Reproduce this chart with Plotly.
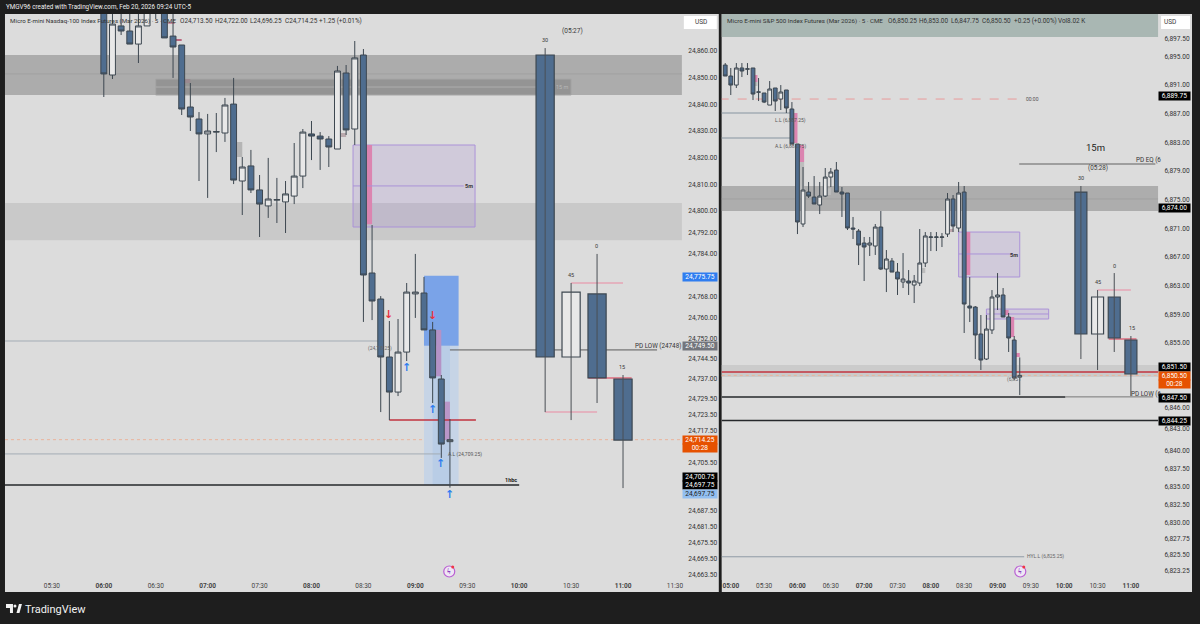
import pandas as pd
import plotly.graph_objects as go

DAY = "2026-02-20 "

# ---------- Nasdaq pane data ----------
nq_times = [d.strftime("%Y-%m-%d %H:%M") for d in pd.date_range(DAY + "06:00", DAY + "09:20", freq="5min")]
nq_open = [24877,24851,24869.4,24867.5,24862.6,24869.4,24878,24878,24865.6,24862.25,24839,24834.5,
           24828.9,24829.6,24829.25,24840.1,24811.25,24816.9,24807.9,24801.9,24804.1,24803.4,24805.6,24813.1,
           24828.9,24828.1,24827,24823.25,24851.75,24830.75,24858.5,24776.75,24767,24745.25,24732.1,24747.1,
           24768.9,24769.25,24755.4,24737,24713.5]
nq_high = [24879,24875,24875,24875,24875,24879,24879,24879,24874,24862.25,24848,24837.1,
           24836.4,24836.75,24842.4,24849.9,24820.25,24822.9,24813.5,24819.9,24812.4,24811.25,24825.5,24830.75,
           24833.75,24829.6,24828.1,24854.4,24854.75,24863.75,24860.75,24794.75,24768.1,24758.75,24759.5,24773,
           24783.9,24775.25,24758.4,24738.5,24722]
nq_low = [24842.75,24849.5,24866,24862.6,24855.5,24869.4,24872,24864.9,24849.9,24836,24830,24811.25,
          24804.9,24822.1,24825.9,24810.1,24798.5,24806.75,24790.25,24797.4,24795.5,24791.75,24802.6,24808.6,
          24819.1,24815.4,24816.5,24823.25,24828.5,24824.75,24758.4,24759.1,24724.6,24721.6,24730.6,24743.75,
          24759.9,24755.4,24728,24707.4,24696.25]
nq_close = [24851.4,24870.1,24867.5,24862.6,24869.4,24877,24874.5,24864.9,24861.5,24838.25,24835.25,24828.9,
            24830,24829.75,24839.75,24811.6,24816.5,24807.9,24802.6,24804.5,24804.25,24806.4,24813.1,24829.6,
            24828.1,24827,24824,24852.5,24830.4,24857.4,24776,24766.25,24745.25,24732.1,24747.1,24769.6,
            24769.6,24755.4,24737.4,24712.6,24714.25]
nq_htf_times = [DAY + "10:15", DAY + "10:30", DAY + "10:45", DAY + "11:00"]
nq_htf_open = [24858.5,24745.25,24768.9,24737]
nq_htf_high = [24861.1,24773,24783.9,24738.5]
nq_htf_low = [24724.6,24721.6,24728,24696.1]
nq_htf_close = [24745.25,24769.6,24737.4,24714.1]
nq_ticks = [24860,24850,24840,24830,24820,24810,24800,24792,24784,24768,24760,24752,24744.5,24737,24729.5,
            24723.5,24717.5,24705.5,24687.5,24681.5,24675.5,24669.5,24663.5]
nq_times_ticks = ["05:30","06:00","06:30","07:00","07:30","08:00","08:30","09:00","09:30","10:00","10:30","11:00","11:30"]

# ---------- S&P pane data ----------
es_times = [d.strftime("%Y-%m-%d %H:%M") for d in pd.date_range(DAY + "04:55", DAY + "09:20", freq="5min")]
es_open = [6893.78,6892.25,6890.99,6893.37,6893.2,6893.37,6890,6889.88,6888.2,6890.58,6889.04,6890.3,6887.65,6882.77,
           6871.61,6876.07,6875.37,6874.26,6875.51,6878.16,6879.14,6876.07,6875.93,6871.05,6870.63,6868.96,6868.68,
           6868.54,6871.19,6865.33,6866.45,6864.91,6863.52,6863.66,6863.1,6863.38,6866.17,6869.75,6869.75,6869.75,
           6870.21,6875.1,6871.05,6876.07,6860.17,6860.03,6856.27,6852.78,6856.83,6861.43,6861.71,6858.64,6855.43,6850.25]
es_high = [6894.06,6893.37,6894.06,6894.06,6894.06,6893.37,6891.97,6889.88,6891.55,6890.58,6890.99,6890.3,6888.62,6882.77,
           6879.56,6877.47,6878.3,6877.47,6879.42,6879.42,6880.26,6876.77,6875.93,6872.59,6870.91,6869.8,6869.8,
           6871.61,6873.42,6867.98,6866.87,6866.17,6867.56,6865.19,6864.5,6870.91,6870.49,6870.49,6870.49,6870.35,
           6875.93,6875.65,6877.47,6876.91,6864.22,6860.17,6858.92,6858.92,6862.4,6864.77,6862.68,6859.2,6855.99,6853]
es_low = [6892.25,6889.6,6890.58,6892.11,6892.39,6888.9,6888.76,6888.48,6888.2,6887.37,6887.51,6887.09,6882.77,6870.21,
          6871.19,6875.24,6874.4,6873,6875.37,6876.77,6876.07,6872.59,6870.77,6869.52,6865.89,6863.66,6867.15,
          6867.29,6865.19,6862.12,6864.91,6861.71,6862.68,6861.71,6860.59,6862.96,6865.61,6867.84,6867.84,6868.4,
          6869.8,6870.49,6870.49,6856.41,6857.94,6852.78,6851.25,6852.64,6856.27,6859.62,6858.64,6853.76,6849.85,6847.75]
es_close = [6892.25,6890.99,6893.37,6892.95,6893.25,6889.74,6890.02,6888.62,6890.44,6888.76,6890.02,6887.79,6882.77,6871.89,
            6876.35,6875.51,6874.4,6875.51,6878.16,6878.86,6876.07,6875.79,6871.05,6870.91,6868.68,6868.4,6868.96,
            6871.19,6865.33,6866.73,6864.91,6863.94,6863.94,6863.38,6863.66,6866.17,6869.94,6869.8,6869.8,6869.8,
            6875.1,6871.33,6875.93,6860.45,6859.89,6856.13,6852.64,6856.96,6861.43,6861.71,6858.64,6855.71,6850.13,6850.5]
es_htf_times = [DAY + "10:15", DAY + "10:30", DAY + "10:45", DAY + "11:00"]
es_htf_open = [6876.07,6856.27,6861.43,6855.43]
es_htf_high = [6876.91,6862.4,6864.77,6855.99]
es_htf_low = [6852.78,6851.25,6853.76,6847.62]
es_htf_close = [6856.27,6861.43,6855.71,6850.69]
es_ticks = [6897.5,6895,6891,6887,6883,6879,6875,6871,6867,6863,6859,6855,6846,6843,6840,6837.5,6835,6832.5,6830,6827.75,6825.5,6823.25]
es_times_ticks = ["05:00","05:30","06:00","06:30","07:00","07:30","08:00","08:30","09:00","09:30","10:00","10:30","11:00"]

# ---------- styling ----------
DARK = "#1e1e1e"
PANE = "#dcdcdc"
BLUE = "#4f6d8f"
EDGE = "#3d4750"
FONT = "Roboto"
TXT = "#3a3a3a"


def px(x):
    return x / 1200


def py(y):
    return 1 - y / 624


fig = go.Figure()


def candles(times, o, h, l, c, xa, ya):
    fig.add_trace(go.Candlestick(
        x=times, open=o, high=h, low=l, close=c, xaxis=xa, yaxis=ya, showlegend=False,
        increasing=dict(fillcolor="#e8e8e8", line=dict(color=EDGE, width=1)),
        decreasing=dict(fillcolor=BLUE, line=dict(color=EDGE, width=1)),
        whiskerwidth=0, hoverinfo="skip"))


def htf(times, o, h, l, c, xa, ya, minutes):
    wx, wy = [], []
    for t, hi, lo in zip(times, h, l):
        wx += [t, t, None]
        wy += [lo, hi, None]
    fig.add_trace(go.Scatter(x=wx, y=wy, mode="lines", xaxis=xa, yaxis=ya, showlegend=False,
                             line=dict(color="#4a4f55", width=1), hoverinfo="skip"))
    fig.add_trace(go.Bar(
        x=times, base=[min(a, b) for a, b in zip(o, c)], y=[abs(a - b) for a, b in zip(o, c)],
        width=minutes * 60000, xaxis=xa, yaxis=ya, showlegend=False, hoverinfo="skip",
        marker=dict(color=[BLUE if b < a else "#e8e8e8" for a, b in zip(o, c)], line=dict(color=EDGE, width=1.2))))


candles(nq_times, nq_open, nq_high, nq_low, nq_close, "x", "y")
htf(nq_htf_times, nq_htf_open, nq_htf_high, nq_htf_low, nq_htf_close, "x", "y", 10.5)
candles(es_times, es_open, es_high, es_low, es_close, "x2", "y2")
htf(es_htf_times, es_htf_open, es_htf_high, es_htf_low, es_htf_close, "x2", "y2", 10.8)

shapes = []


def paper_rect(x0, y0, x1, y1, color):
    shapes.append(dict(type="rect", xref="paper", yref="paper", x0=px(x0), x1=px(x1), y0=py(y0), y1=py(y1),
                       fillcolor=color, line_width=0, layer="below"))


# panes (drawn in paper space so they extend past the axes)
paper_rect(5, 14, 720, 592, PANE)
paper_rect(723, 14, 1194, 592, PANE)
paper_rect(685, 16, 718, 29, "#ffffff")
paper_rect(1163, 16, 1192, 29, "#ffffff")


def zone(pane, t0, t1, p0, p1, fill, line=None, layer="below"):
    xa = "x" if pane == 1 else "x2"
    ya = "y" if pane == 1 else "y2"
    s = dict(type="rect", yref=ya, y0=p0, y1=p1, fillcolor=fill, layer=layer,
             line=dict(color=line, width=1) if line else dict(width=0))
    if t0 is None:
        s.update(xref=xa + " domain", x0=0, x1=1)
    else:
        s.update(xref=xa, x0=DAY + t0, x1=DAY + t1)
    shapes.append(s)


def hline(pane, t0, t1, p, color, width=1, dash="solid", layer="below"):
    xa = "x" if pane == 1 else "x2"
    ya = "y" if pane == 1 else "y2"
    s = dict(type="line", yref=ya, y0=p, y1=p, layer=layer, line=dict(color=color, width=width, dash=dash))
    if t0 is None:
        s.update(xref=xa + " domain", x0=0, x1=1)
    else:
        s.update(xref=xa, x0=DAY + t0, x1=DAY + t1)
    shapes.append(s)


PINK = "#db84b0"
PURP = "rgba(150,110,210,0.16)"
PURPL = "#ab92d8"
LINEG = "#a3acb5"

# ----- left pane overlays -----
zone(1, None, None, 24843.5, 24858.5, "#acacac")
hline(1, None, None, 24851.4, "#a0a0a0")
zone(1, "06:30", "10:30", 24843.5, 24849.5, "#949494", line="#a6a6a6")
hline(1, "06:30", "10:15", 24846.5, "#adadad")
zone(1, None, None, 24789, 24803, "#c9c9c9")
zone(1, "09:05", "09:25", 24697.25, 24749.5, "#c6d4e6")
zone(1, "09:10", "09:20", 24697.25, 24749.5, "#b9cde6")
zone(1, "09:05", "09:25", 24749.5, 24775.75, "#7aa3e8")
zone(1, "09:12", "09:15", 24738, 24755.4, "#b492c6")
zone(1, "09:16:40", "09:20", 24714.1, 24728.5, "#b996c8")
zone(1, "08:24", "09:34:30", 24794, 24824.75, PURP, line=PURPL)
zone(1, "08:32", "08:35", 24795, 24824.75, PINK)
hline(1, "08:24", "09:28", 24809.4, PURPL)
zone(1, "07:17", "07:20", 24820.25, 24825.9, "#b5b5b5")
zone(1, "06:47", "06:50", 24848, 24849.5, "#9a8a90")
zone(1, "08:15", "08:20", 24827.75, 24829.25, "#b8a8ac")
hline(1, "06:37", "06:41", 24870.5, "#b04060")
hline(1, "06:41:30", "06:45", 24864.1, "#b04060", 1.5)
hline(1, "09:20", "11:19:40", 24747.9, "#5a5a5a")
hline(1, "08:45", "09:35", 24721.6, "#c2333f", 1.5)
hline(1, None, None, 24714.25, "#eab39c", 1, "dot")
hline(1, "05:00", "10:00", 24697.25, "#26282b", 1.5)
hline(1, "05:00", "08:40", 24751.25, LINEG)
hline(1, "05:00", "09:14:30", 24708.9, LINEG)
hline(1, "10:15", "10:45", 24724.6, "#e6a6b6", 1.5)
hline(1, "10:30", "11:00", 24773, "#e6a6b6", 1.5)
hline(1, "10:40", "11:05", 24737.4, "#dc6a7c", 1.5)

# ----- right pane overlays -----
zone(2, None, None, 6897.69, 6901, "#a9b7b3")
zone(2, None, None, 6873.42, 6876.91, "#adadad")
hline(2, None, None, 6875.1, "#a0a0a0")
zone(2, None, None, 6850.27, 6851.94, "#cbcbcb")
hline(2, "04:50", "09:19", 6889.04, "#e99a9a", 1, "dash")
hline(2, "04:50", "05:55", 6887.09, LINEG, 1.5)
hline(2, "04:50", "05:55", 6883.6, LINEG, 1.5)
zone(2, "05:57", "06:00", 6882.9, 6887.09, PINK)
zone(2, "06:01", "06:06", 6880.26, 6882.63, PINK)
zone(2, "06:01", "06:06", 6876.35, 6880.26, "#bdbdbd")
zone(2, "05:21", "05:24", 6891.41, 6892.39, PINK)
zone(2, "05:21", "05:24", 6890.86, 6891.41, "#bdbdbd")
zone(2, "07:51", "07:55", 6864.77, 6865.47, "#bdbdbd")
zone(2, "08:16", "08:20", 6870.49, 6870.91, "#c0a8ae")
zone(2, "06:25", "06:30", 6875.65, 6876.6, "#bdbdbd")
zone(2, "08:25", "09:20", 6864.22, 6870.49, PURP, line=PURPL)
zone(2, "08:30", "08:35:30", 6864.5, 6870.49, PINK)
hline(2, "08:25", "09:14", 6867.43, PURPL)
zone(2, "08:50", "09:46", 6858.36, 6859.75, PURP, line=PURPL)
hline(2, "08:50", "09:46", 6859.06, PURPL)
zone(2, "09:12", "09:15", 6855.85, 6858.64, PINK)
zone(2, "09:16", "09:20", 6853.06, 6853.62, PINK)
zone(2, "09:05", "09:10", 6858.92, 6859.62, PINK)
hline(2, None, None, 6850.97, "#c2333f", 1.5)
hline(2, None, None, 6850.5, "#eab39c", 1, "dot")
hline(2, "04:50", "10:01", 6847.5, "#26282b", 1.5)
hline(2, "10:01", "11:20", 6847.5, "#777777")
hline(2, None, None, 6844.2, "#26282b", 1.5)
hline(2, "09:19:30", "11:22", 6879.98, "#8a8a8a", 1.5)
hline(2, "04:50", "09:24", 6825.2, "#8f9aa5")
hline(2, "10:30", "11:00", 6862.4, "#e6a6b6", 1.5)
hline(2, "10:40", "11:05", 6855.57, "#dc6a7c", 1.5)


def svg_path(pts):
    return "M" + " L".join(f"{px(a):.5f},{py(b):.5f}" for a, b in pts) + " Z"


# TradingView mark
for pts in ([(6, 604), (13, 604), (13, 613), (10, 613), (10, 608), (6, 608)],
            [(16.5, 613), (19, 604), (22, 604), (19.5, 613)]):
    shapes.append(dict(type="path", xref="paper", yref="paper", path=svg_path(pts), fillcolor="#f2f2f2",
                       line_width=0, layer="above"))
shapes.append(dict(type="circle", xref="paper", yref="paper", x0=px(13.5), x1=px(16.5), y0=py(607.5), y1=py(604.5),
                   fillcolor="#f2f2f2", line_width=0, layer="above"))

# alert badge
for cx in (450, 1022):
    shapes.append(dict(type="circle", xref="paper", yref="paper", x0=px(cx - 5.5), x1=px(cx + 5.5),
                       y0=py(577), y1=py(566), fillcolor="#efe6f4", line=dict(color="#b95fd3", width=1.2)))
    shapes.append(dict(type="circle", xref="paper", yref="paper", x0=px(cx + 2), x1=px(cx + 5),
                       y0=py(568.5), y1=py(565.5), fillcolor="#f23645", line_width=0))

annots = []


def txt(x, y, text, size=6.5, color=TXT, anchor="center", bg=None, width=None, height=None, bold=False, family=FONT):
    a = dict(xref="paper", yref="paper", x=px(x), y=py(y), text=f"<b>{text}</b>" if bold else text,
             showarrow=False, xanchor=anchor, yanchor="middle", font=dict(family=family, size=size, color=color),
             borderpad=0)
    if bg:
        a.update(bgcolor=bg, width=width, height=height, align="center")
    annots.append(a)


WHITE = "#f0f0f0"
HDR = "#333333"
txt(5, 7.5, "YMGV96 created with TradingView.com, Feb 20, 2026 09:24 UTC-5", 6.3, WHITE, "left")
txt(9, 21.5, "Micro E-mini Nasdaq-100 Index Futures (Mar 2026) · 5 · CME", 6.2, HDR, "left")
for x, s in [(179, "O24,713.50"), (214.5, "H24,722.00"), (249, "L24,696.25"), (284, "C24,714.25"), (319, "+1.25 (+0.01%)")]:
    txt(x, 21.5, s, 6.4, HDR, "left")
txt(727, 21.5, "Micro E-mini S&amp;P 500 Index Futures (Mar 2026) · 5 · CME", 6.2, HDR, "left")
for x, s in [(888, "O6,850.25"), (920, "H6,853.00"), (952, "L6,847.75"), (983, "C6,850.50"), (1015, "+0.25 (+0.00%)"), (1059, "Vol8.02 K")]:
    txt(x, 21.5, s, 6.4, HDR, "left")
txt(24, 609, "TradingView", 11, "#f2f2f2", "left")
txt(702, 22.5, "USD", 6.5)
txt(1172, 22.5, "USD", 6.5)

# left pane labels
txt(573, 30.5, "(05:27)", 6.5)
txt(545.5, 40.5, "30", 5.5)
txt(572, 275, "45", 5.5)
txt(597.5, 246, "0", 5.5)
txt(623.5, 367, "15", 5.5)
txt(563, 87, "15 m", 5.5, "#b8b8b8")
txt(470, 186, "5m", 5.5, "#333333", bold=True)
txt(512, 480, "1hbc", 5.5, "#222222", bold=True)
txt(635, 345.5, "PD LOW (24748)", 6.3, "#333333", "left")
txt(381, 348, "(24,7 8.25)", 5, "#666666")
txt(466, 454, "A.L (24,709.25)", 5, "#555555")
for x, y, c, g in [(389, 314, "#e8333f", "↓"), (433, 315, "#e8333f", "↓"), (407, 367, "#2f7df0", "↑"),
                   (433, 409, "#2f7df0", "↑"), (441.5, 463, "#2f7df0", "↑"), (450, 494, "#2f7df0", "↑")]:
    txt(x, y, g, 11, c, bold=True, family="DejaVu Sans")

# right pane labels
txt(1034, 99, "00:00", 5, "#555555")
txt(792, 121, "L.L (6,887.25)", 5, "#555555")
txt(792, 146, "A.L (6,883.75)", 5, "#555555")
txt(1016, 254.5, "5m", 5.5, "#333333", bold=True)
txt(1097, 147, "15m", 9.5, "#222222")
txt(1137, 160.5, "PD EQ (6", 6.3, "#333333", "left")
txt(1100, 168, "(05:28)", 6.3)
txt(1083, 178, "30", 5.5)
txt(1100, 282, "45", 5.5)
txt(1116.5, 266, "0", 5.5)
txt(1133.5, 328, "15", 5.5)
txt(1016, 380, "(6,851", 5, "#666666")
txt(1132, 393.5, "PD LOW (6", 6.3, "#333333", "left")
txt(1047, 556.5, "HYL.L (6,825.25)", 5, "#666666")

# price-axis flags
for x, y, text, bg, col in [(701, 276.5, "24,775.75", "#2f7df0", "#ffffff"), (701, 346, "24,749.50", "#72757c", "#ffffff"),
                            (701, 440, "24,714.25", "#e65100", "#ffffff"), (701, 448, "00:28", "#e65100", "#ffffff"),
                            (701, 477, "24,700.75", "#000000", "#ffffff"), (701, 485, "24,697.75", "#000000", "#ffffff"),
                            (701, 494, "24,697.75", "#93bff0", "#222222"),
                            (1176.5, 95.5, "6,889.75", "#000000", "#ffffff"), (1176.5, 208, "6,874.00", "#000000", "#ffffff"),
                            (1176.5, 367, "6,851.50", "#000000", "#ffffff"), (1176.5, 375.5, "6,850.50", "#e65100", "#ffffff"),
                            (1176.5, 383.5, "00:28", "#e65100", "#ffffff"), (1176.5, 397.5, "6,847.50", "#000000", "#ffffff"),
                            (1176.5, 421, "6,844.25", "#000000", "#ffffff")]:
    w = 34 if x == 701 else 31
    txt(x, y, text, 6.6, col, bg=bg, width=w, height=8)

for cx in (450, 1022):
    txt(cx - 0.5, 571.5, "ϟ", 8, "#8a3fc0", bold=True)


def axis_ticks(times):
    vals = [DAY + t for t in times]
    text = [f"<b>{t}</b>" if t.endswith(":00") else t for t in times]
    return vals, text


nv, nt = axis_ticks(nq_times_ticks)
ev, et = axis_ticks(es_times_ticks)


def xaxis(domain, rng, vals, text):
    return dict(domain=domain, range=rng, type="date", tickmode="array", tickvals=vals, ticktext=text,
                showgrid=False, zeroline=False, showline=False, ticks="", ticklen=0,
                tickfont=dict(family=FONT, size=6.5, color="#444444"), rangeslider=dict(visible=False), fixedrange=True)


def yaxis(anchor, rng, ticks, fmt):
    return dict(domain=[py(580), py(14)], range=rng, anchor=anchor, side="right", tickmode="array", tickvals=ticks,
                ticktext=[fmt.format(t) for t in ticks], showgrid=False, zeroline=False, showline=False, ticks="outside",
                ticklen=4, tickcolor="rgba(0,0,0,0)", tickfont=dict(family=FONT, size=6.6, color="#333333"), fixedrange=True)


fig.update_layout(
    width=1200, height=624, autosize=False, margin=dict(l=0, r=0, t=0, b=0, pad=0),
    paper_bgcolor=DARK, plot_bgcolor=PANE, showlegend=False, boxgap=0.32, boxgroupgap=0, barmode="overlay",
    font=dict(family=FONT), shapes=shapes, annotations=annots,
    xaxis=xaxis([px(5), px(683)], [DAY + "05:02:54", DAY + "11:34:00"], nv, nt),
    yaxis=yaxis("x", [24661.625, 24873.875], nq_ticks, "{:,.2f}"),
    xaxis2=xaxis([px(723), px(1160)], [DAY + "04:51:55", DAY + "11:24:26"], ev, et),
    yaxis2=yaxis("x2", [6821.96, 6900.90], es_ticks, "{:,.2f}"),
)

fig.write_html("out.html", config=dict(displayModeBar=False),
               post_script="document.body.style.margin='0';document.body.style.background='#1e1e1e';")
